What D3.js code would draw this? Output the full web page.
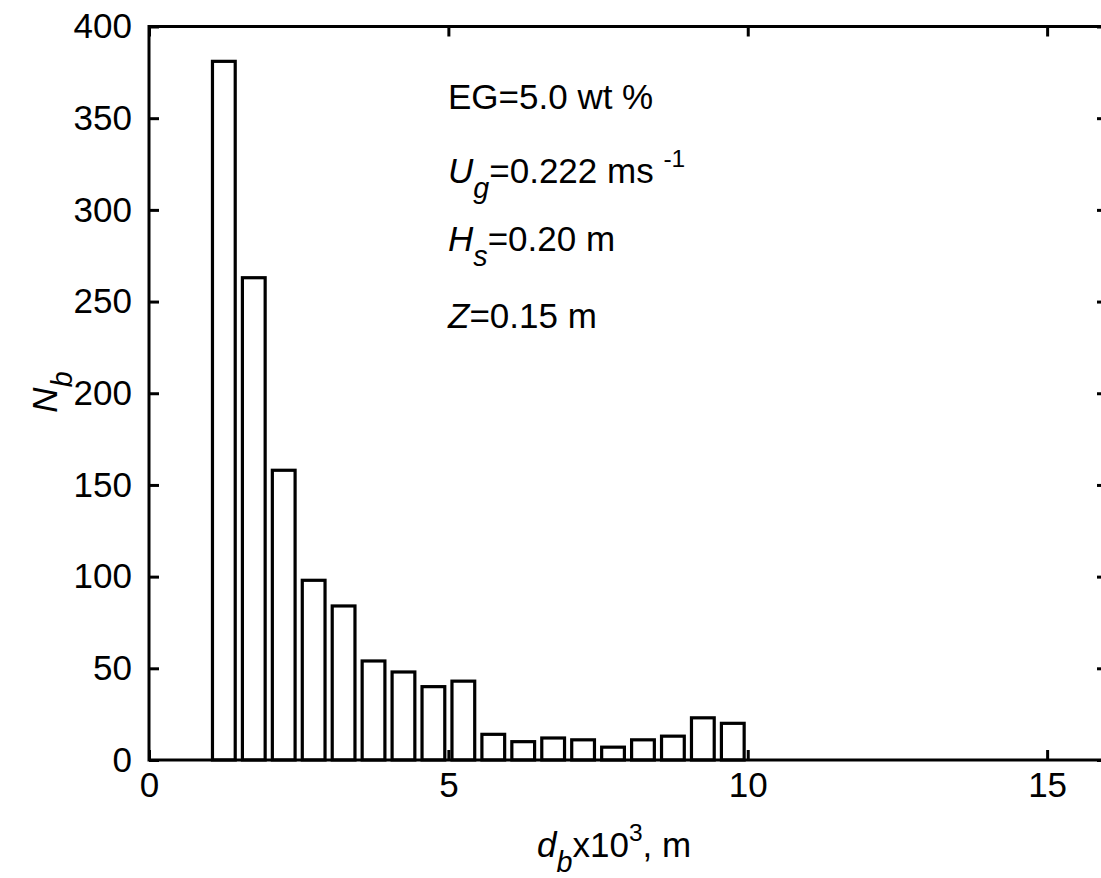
<!DOCTYPE html>
<html>
<head>
<meta charset="utf-8">
<script src="https://cdn.jsdelivr.net/npm/d3@7"></script>
<style>
  body { margin: 0; background: #fff; }
  svg { display: block; font-family: "Liberation Sans", Arial, Helvetica, sans-serif; }
</style>
</head>
<body>
<svg id="chart" width="1101" height="878"></svg>
<script>
// ---- data ----
const binStarts = [1.0, 1.5, 2.0, 2.5, 3.0, 3.5, 4.0, 4.5, 5.0, 5.5, 6.0, 6.5, 7.0, 7.5, 8.0, 8.5, 9.0, 9.5];
const counts    = [381, 263, 158, 98, 84, 54, 48, 40, 43, 14, 10, 12, 11, 7, 11, 13, 23, 20];
const binWidth = 0.5;
const xTicks = [0, 5, 10, 15];
const yTicks = [0, 50, 100, 150, 200, 250, 300, 350, 400];
const annotations = [
  [{t: "EG=5.0 wt %"}],
  [{t: "U", i: true}, {t: "g", i: true, sub: true}, {t: "=0.222 ms "}, {t: "-1", sup: true}],
  [{t: "H", i: true}, {t: "s", i: true, sub: true}, {t: "=0.20 m"}],
  [{t: "Z", i: true}, {t: "=0.15 m"}]
];

// ---- layout ----
const svg = d3.select("#chart");
const x = d3.scaleLinear().domain([0, 16]).range([149, 1107]);
const y = d3.scaleLinear().domain([0, 400]).range([760, 26.5]);
const FS = 35;

// bars
svg.append("g").selectAll("rect").data(binStarts).join("rect")
  .attr("x", (d) => x(d + binWidth * 0.5 - 0.19))
  .attr("width", (d) => x(d + binWidth * 0.5 + 0.19) - x(d + binWidth * 0.5 - 0.19))
  .attr("y", (d, i) => y(counts[i]))
  .attr("height", (d, i) => y(0) - y(counts[i]))
  .attr("fill", "#fff").attr("stroke", "#000").attr("stroke-width", 3.2);

// axes
function styleAxis(g, showText) {
  g.select(".domain").remove();
  g.selectAll(".tick line").attr("stroke", "#000").attr("stroke-width", 3);
  g.selectAll(".tick text").attr("fill", "#000").style("font-size", FS + "px");
  if (!showText) g.selectAll(".tick text").remove();
}
svg.append("g").attr("transform", `translate(0,${y(0)})`)
  .call(d3.axisBottom(x).tickValues(xTicks).tickSize(-10).tickPadding(12).tickFormat(d3.format("d")))
  .call(g => styleAxis(g, true));
svg.append("g").attr("transform", `translate(0,${y(400)})`)
  .call(d3.axisTop(x).tickValues(xTicks).tickSize(-10))
  .call(g => styleAxis(g, false));
svg.append("g").attr("transform", `translate(${x(0)},0)`)
  .call(d3.axisLeft(y).tickValues(yTicks).tickSize(-10).tickPadding(17).tickFormat(d3.format("d")))
  .call(g => styleAxis(g, true));
svg.append("g").attr("transform", `translate(${x(16)},0)`)
  .call(d3.axisRight(y).tickValues(yTicks).tickSize(-10))
  .call(g => styleAxis(g, false));

// frame
svg.append("rect")
  .attr("x", x(0)).attr("y", y(400))
  .attr("width", x(16) - x(0)).attr("height", y(0) - y(400))
  .attr("fill", "none").attr("stroke", "#000").attr("stroke-width", 3);

// rich text helper
function rich(parent, parts, size) {
  parts.forEach(p => {
    const ts = parent.append("tspan").text(p.t);
    if (p.i) ts.attr("font-style", "italic");
    if (p.sub) ts.attr("font-size", size * 0.82);
    else if (p.sup) ts.attr("font-size", size * 0.7);
    ts.attr("data-shift", p.sub ? size * 0.42 : p.sup ? -size * 0.45 : 0);
  });
  let shift = 0;
  parent.selectAll("tspan").each(function () {
    const s = +this.getAttribute("data-shift");
    const dy = s - shift;
    if (dy !== 0) this.setAttribute("dy", dy); else this.removeAttribute("dy");
    shift = s;
    this.removeAttribute("data-shift");
  });
}

// annotations
const annBase = [109, 183, 251, 328];
annotations.forEach((parts, k) => {
  const t = svg.append("text").attr("x", 448).attr("y", annBase[k])
    .attr("font-size", FS).attr("fill", "#000");
  rich(t, parts, FS);
});

// x-axis title
const xt = svg.append("text").attr("x", 537).attr("y", 857).attr("font-size", FS).attr("fill", "#000");
rich(xt, [{t: "d", i: true}, {t: "b", i: true, sub: true}, {t: "x10"}, {t: "3", sup: true}, {t: ", m"}], FS);

// y-axis title
const yt = svg.append("text")
  .attr("transform", `translate(57,${392}) rotate(-90)`)
  .attr("text-anchor", "middle").attr("font-size", FS).attr("fill", "#000");
rich(yt, [{t: "N", i: true}, {t: "b", i: true, sub: true}], FS);
</script>
</body>
</html>
